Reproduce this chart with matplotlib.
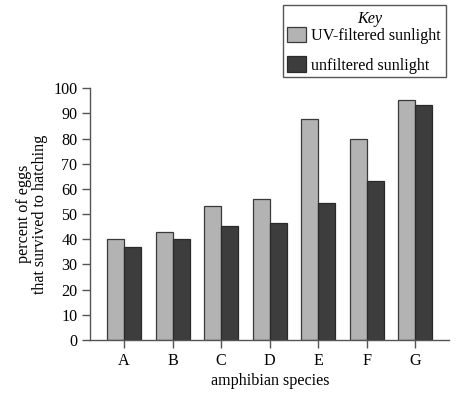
import numpy as np
import matplotlib.pyplot as plt
from matplotlib.patches import Rectangle

species = ['A', 'B', 'C', 'D', 'E', 'F', 'G']
uv_filtered = [40, 43, 53.4, 56, 87.7, 80, 95.5]
unfiltered = [37, 40, 45.4, 46.6, 54.5, 63, 93.4]
y_ticks = list(range(0, 101, 10))

plt.rcParams['font.family'] = ['Liberation Serif', 'DejaVu Serif']
fs = 11.6

fig = plt.figure(figsize=(4.6, 3.95), dpi=100)
ax = fig.add_axes([0.1967, 0.1392, 0.78, 0.6373])

x = np.arange(len(species))
w = 0.35
ax.bar(x - w / 2, uv_filtered, w, color='#b3b3b3', edgecolor='#3a3a3a',
       linewidth=0.9, label='UV-filtered sunlight')
ax.bar(x + w / 2, unfiltered, w, color='#3d3d3d', edgecolor='#2a2a2a',
       linewidth=0.9, label='unfiltered sunlight')

ax.set_xlim(-0.69, 6.70)
ax.set_ylim(0, 100)
ax.set_yticks(y_ticks)
ax.set_xticks(x)
ax.set_xticklabels(species)
for s in ['top', 'right']:
    ax.spines[s].set_visible(False)
for s in ['left', 'bottom']:
    ax.spines[s].set_color('#555555')
    ax.spines[s].set_linewidth(1.0)
ax.tick_params(axis='both', colors='#555555', labelcolor='black',
               labelsize=fs, length=6, width=1.0)
ax.tick_params(axis='x', pad=3.5)
ax.tick_params(axis='y', pad=3.5)

ax.set_xlabel('amphibian species', fontsize=fs, va='center')
ax.xaxis.set_label_coords(0.5, -0.163)
ax.set_ylabel('percent of eggs\nthat survived to hatching', fontsize=fs,
              linespacing=1.0, va='center')
ax.yaxis.set_label_coords(-0.162, 0.5)

# key box
fig.patches.append(Rectangle((283 / 460, 1 - 77 / 395), 163 / 460, 72 / 395,
                             transform=fig.transFigure, fill=False,
                             edgecolor='#555555', linewidth=1.0))
fig.text(370 / 460, 1 - 19 / 395, 'Key', fontsize=fs, fontstyle='italic',
         ha='center', va='center')
leg = fig.legend(loc='upper left', bbox_to_anchor=(287 / 460, 1 - 27 / 395),
                 fontsize=fs, frameon=False,
                 handlelength=1.2, handleheight=1.1, handletextpad=0.3,
                 labelspacing=0.75, borderpad=0, borderaxespad=0)

fig.savefig('out.png', dpi=100)
